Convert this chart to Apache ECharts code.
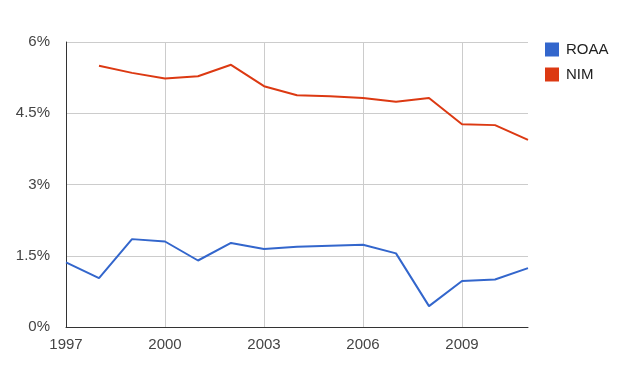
<!DOCTYPE html>
<html>
<head>
<meta charset="utf-8">
<script src="https://cdn.jsdelivr.net/npm/echarts@6/dist/echarts.min.js"></script>
<style>html,body{margin:0;padding:0;background:#fff;}#chart{width:629px;height:386px;}</style>
</head>
<body>
<div id="chart"></div>
<script>
const years = ['1997','1998','1999','2000','2001','2002','2003','2004','2005','2006','2007','2008','2009','2010','2011'];
const roaa = [1.36, 1.03, 1.85, 1.80, 1.40, 1.77, 1.64, 1.69, 1.71, 1.73, 1.55, 0.44, 0.97, 1.00, 1.24];
const nim = [null, 5.50, 5.35, 5.23, 5.28, 5.52, 5.07, 4.88, 4.86, 4.82, 4.74, 4.82, 4.27, 4.25, 3.94];
const yTicks = ['0%', '1.5%', '3%', '4.5%', '6%'];

const chart = echarts.init(document.getElementById('chart'));
const font = 'Arial, "Liberation Sans", sans-serif';
chart.setOption({
  animation: false,
  textStyle: { fontFamily: font },
  grid: { left: 66, top: 42, right: 101, bottom: 59 },
  legend: {
    orient: 'vertical', left: 545, top: 42, padding: 0,
    icon: 'rect', itemWidth: 14, itemHeight: 14, itemGap: 10,
    textStyle: { fontSize: 15, color: '#222', fontFamily: font, padding: [0, 0, 0, 2] },
    data: ['ROAA', 'NIM']
  },
  xAxis: {
    type: 'category', data: years, boundaryGap: false,
    axisLine: { lineStyle: { color: '#333', width: 1 } },
    axisTick: { show: false },
    axisLabel: { interval: 2, color: '#444', fontSize: 15, margin: 10, fontFamily: font },
    splitLine: { show: true, interval: 2, lineStyle: { color: '#ccc', width: 1 } }
  },
  yAxis: {
    type: 'value', min: 0, max: 6, interval: 1.5,
    axisLine: { show: true, lineStyle: { color: '#333', width: 1 } },
    axisTick: { show: false },
    axisLabel: {
      color: '#444', fontSize: 15, margin: 16, fontFamily: font, padding: [2, 0, 0, 0],
      formatter: (v) => yTicks[Math.round(v / 1.5)]
    },
    splitLine: { lineStyle: { color: '#ccc', width: 1 } }
  },
  series: [
    { name: 'ROAA', type: 'line', data: roaa, showSymbol: false, symbol: 'none',
      itemStyle: { color: '#3366cc' }, lineStyle: { color: '#3366cc', width: 2 } },
    { name: 'NIM', type: 'line', data: nim, showSymbol: false, symbol: 'none',
      itemStyle: { color: '#dc3912' }, lineStyle: { color: '#dc3912', width: 2 } }
  ]
});
</script>
</body>
</html>
